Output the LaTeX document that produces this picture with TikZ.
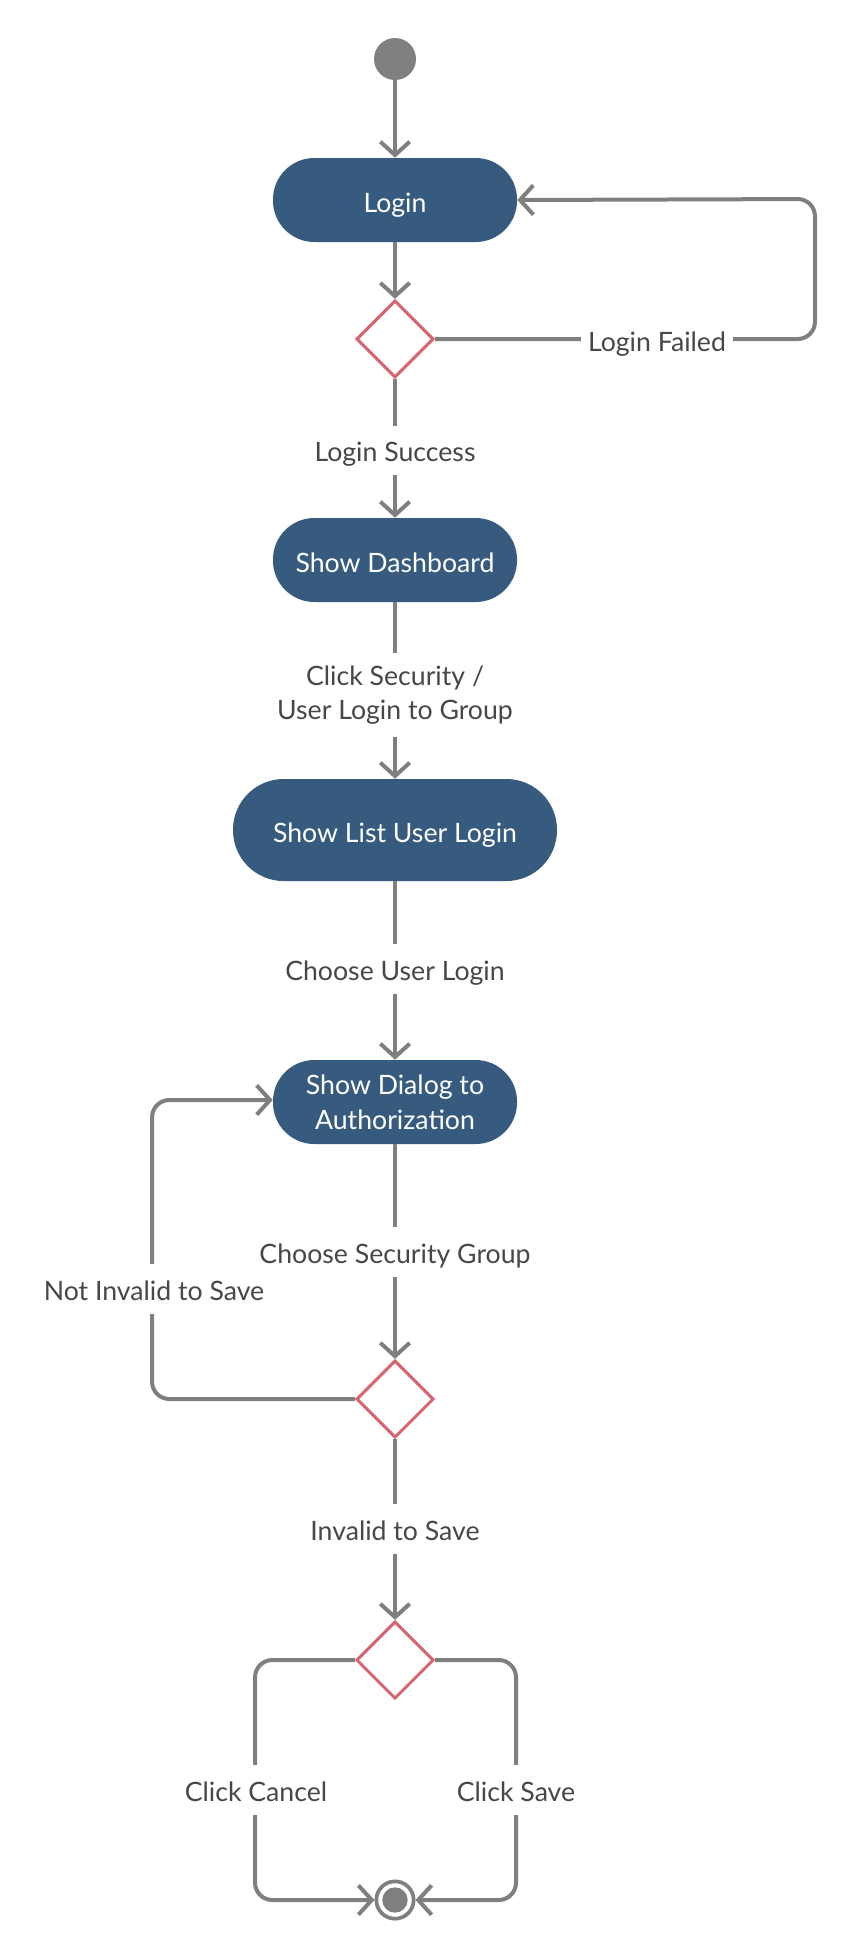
\documentclass[tikz,border=0pt]{standalone}
\usepackage{fontspec}
\setmainfont{Lato}
\usetikzlibrary{shapes.geometric,arrows.meta}
\definecolor{lgray}{HTML}{7F7F7F}
\definecolor{nblue}{HTML}{365B7E}
\definecolor{dred}{HTML}{D6636E}
\definecolor{tgray}{HTML}{474747}
\begin{document}
\begin{tikzpicture}[x=0.75pt,y=-0.75pt,
  act/.style={rectangle, rounded corners=31pt, fill=nblue, text=white,
    minimum width=183pt, minimum height=63pt, inner sep=2pt, align=center,
    font=\fontsize{20}{26}\selectfont},
  act1/.style={act, text height=18pt, text depth=0pt},
  dec/.style={diamond, draw=dred, line width=2.2pt, fill=white,
    minimum width=58pt, minimum height=58pt, inner sep=0pt},
  conn/.style={draw=lgray, line width=3pt, rounded corners=13pt,
    -{Straight Barb[length=10pt,width=22pt]}},
  lbl/.style={fill=white, text=tgray, inner xsep=5.5pt, inner ysep=9pt,
    align=center, font=\fontsize{20}{26}\selectfont},
  lbl1/.style={lbl, text height=18pt, text depth=1pt}
]
\useasboundingbox (0,0) rectangle (855,1960);
\node[circle, fill=lgray, minimum size=31.5pt, inner sep=0pt] (start) at (395,59) {};
\node[act1] (login) at (395,200) {Login};
\node[dec] (d1) at (395,339) {};
\node[act1] (dash) at (395,560) {Show Dashboard};
\node[act1, minimum width=243pt, minimum height=76.5pt, rounded corners=38pt] (list) at (395,830) {Show List User Login};
\node[act] (dialog) at (395,1102) {Show Dialog to\\Authorization};
\node[dec] (d2) at (395,1399) {};
\node[dec] (d3) at (395,1660) {};
\node[circle, draw=lgray, line width=2.8pt, fill=white, minimum size=28pt, inner sep=0pt,
  path picture={\fill[lgray] (path picture bounding box.center) circle (9.5pt);}] (end) at (395,1900) {};

\coordinate (fr) at (815,339);
\coordinate (ft) at (815,199);
\coordinate (nb) at (152,1399);
\coordinate (nt) at (152,1100);
\coordinate (cl1) at (255,1660);
\coordinate (cl2) at (255,1900);
\coordinate (cr1) at (516,1660);
\coordinate (cr2) at (516,1900);

\draw[conn] (start) -- (login);
\draw[conn] (login) -- (d1);
\draw[conn] (d1.east) -- (fr) -- (ft) -- (login.east);
\draw[conn] (d1) -- (dash);
\draw[conn] (dash) -- (list);
\draw[conn] (list) -- (dialog);
\draw[conn] (dialog) -- (d2);
\draw[conn] (d2.west) -- (nb) -- (nt) -- (dialog.west |- nt);
\draw[conn] (d2) -- (d3);
\draw[conn] (d3.west) -- (cl1) -- (cl2) -- (end.west);
\draw[conn] (d3.east) -- (cr1) -- (cr2) -- (end.east);

\node[lbl1] (l1) at (657,340) {Login Failed};
\node[lbl1] (l2) at (395,450.5) {Login Success};
\node[lbl] (l3) at (395,695) {Click Security /\\User Login to Group};
\node[lbl1] (l4) at (395,969) {Choose User Login};
\node[lbl1] (l5) at (395,1252) {Choose Security Group};
\node[lbl1] (l6) at (154,1289) {Not Invalid to Save};
\node[lbl1] (l7) at (395,1529) {Invalid to Save};
\node[lbl1] (l8) at (256,1790) {Click Cancel};
\node[lbl1] (l9) at (516,1790) {Click Save};
\end{tikzpicture}
\end{document}
